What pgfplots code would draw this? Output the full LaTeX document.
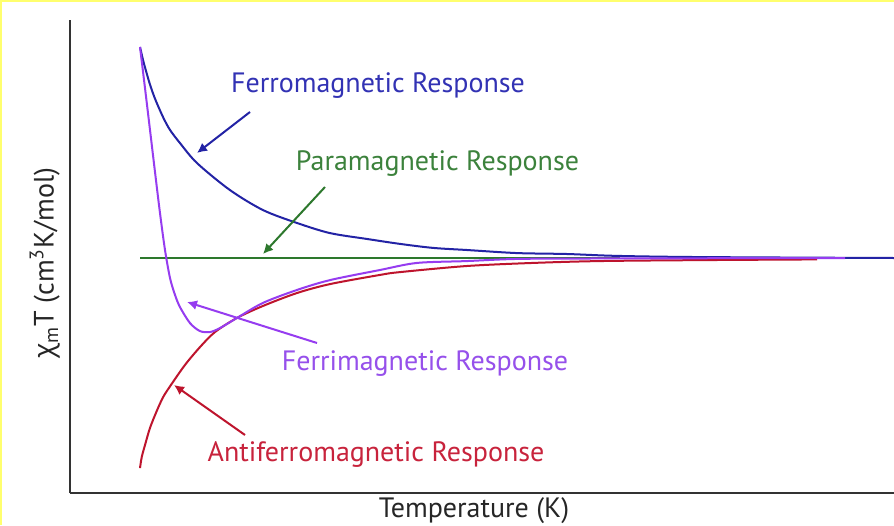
\documentclass[border=0pt]{standalone}
\usepackage{fontspec}
\setmainfont{PT Sans}
\newfontfamily\greekfont{Open Sans}
\usepackage{pgfplots}
\pgfplotsset{compat=1.18}
\usetikzlibrary{arrows.meta}

\definecolor{ferro}{RGB}{35,35,165}
\definecolor{para}{RGB}{45,120,45}
\definecolor{ferri}{RGB}{150,60,240}
\definecolor{anti}{RGB}{190,20,45}
\definecolor{ferrotext}{RGB}{50,50,180}
\definecolor{paratext}{RGB}{60,130,60}
\definecolor{ferritext}{RGB}{150,80,235}
\definecolor{antitext}{RGB}{200,35,60}
\definecolor{frame}{RGB}{255,255,110}

\begin{document}
\begin{tikzpicture}
\useasboundingbox (0pt,0pt) rectangle (447pt,262.5pt);
\fill[white] (0pt,0pt) rectangle (447pt,262.5pt);
\fill[frame] (0pt,0pt) rectangle (1.2pt,262.5pt);
\fill[frame] (0pt,261.3pt) rectangle (447pt,262.5pt);

\begin{axis}[
  at={(35pt,16pt)}, anchor=south west,
  scale only axis, width=412pt, height=236.5pt,
  xmin=0, xmax=329.6, ymin=0, ymax=2.0128,
  axis x line=bottom, axis y line=left,
  axis line style={-, line width=1.1pt, black!80},
  ticks=none,
  every axis plot/.append style={line width=1pt},
]
% paramagnetic: constant chi_m T
\addplot[para, line width=1.1pt] coordinates {(28,1.0) (220,1.0)};

% ferromagnetic: rises on cooling
\addplot[ferro, smooth] coordinates {
 (28,1.898) (29.2,1.843) (30.4,1.796) (32,1.738) (34,1.678)
 (37.2,1.600) (40,1.545) (44,1.489) (50.8,1.404) (64,1.289)
 (77.2,1.204) (90.8,1.149) (104,1.106) (118.8,1.081) (132,1.060)
 (145.2,1.043) (158.8,1.034) (178.8,1.021) (198.8,1.017)
 (218.8,1.009) (252,1.004) (329.6,1.000)};

% antiferromagnetic: falls on cooling
\addplot[anti, smooth] coordinates {
 (28,0.106) (28.7,0.153) (30,0.204) (32,0.277) (34.7,0.349)
 (37.3,0.409) (40.4,0.460) (46,0.545) (52,0.621) (58,0.685)
 (66.8,0.745) (77.2,0.796) (90.8,0.851) (104,0.889) (124,0.928)
 (132,0.940) (158.8,0.966) (185.2,0.979) (212,0.987) (252,0.991)
 (298.8,0.994)};

% ferrimagnetic: minimum, then rises steeply
\addplot[ferri, smooth] coordinates {
 (28,1.898) (30,1.723) (32,1.545) (34,1.366) (36,1.191)
 (38,1.034) (40,0.915) (42,0.843) (44,0.791) (48,0.723)
 (52,0.689) (56,0.685) (60,0.702) (66.8,0.745) (77.2,0.809)
 (90.8,0.864) (104,0.906) (124,0.949) (138.8,0.979) (158.8,0.987)
 (178.8,0.996) (212,0.998) (310,1.0)};
\end{axis}

\begin{scope}[every node/.style={font=\fontsize{14}{16}\selectfont, inner sep=0pt}]
\node[ferrotext, anchor=base] at (189pt,216pt) {Ferromagnetic Response};
\node[paratext, anchor=base] at (218.75pt,177pt) {Paramagnetic Response};
\node[ferritext, anchor=base] at (212.5pt,77.5pt) {Ferrimagnetic Response};
\node[antitext, anchor=base] at (188pt,31.7pt) {Antiferromagnetic Response};
\node[black!85, anchor=base] at (237pt,4pt) {Temperature (K)};
\node[black!85, rotate=90, anchor=center] at (22.5pt,131pt)
  {{\greekfont χ}\textsubscript{m}T (cm\textsuperscript{3}K/mol)};
\end{scope}

\begin{scope}[line width=1pt, arrows={-{Latex[length=5pt,width=5pt]}}]
\draw[ferro] (125pt,206.5pt) -- (98.5pt,186pt);
\draw[para] (162.5pt,169pt) -- (131.5pt,135.5pt);
\draw[ferri] (158.5pt,91pt) -- (93.5pt,111.5pt);
\draw[anti] (122.5pt,45pt) -- (87pt,70pt);
\end{scope}
\end{tikzpicture}
\end{document}
